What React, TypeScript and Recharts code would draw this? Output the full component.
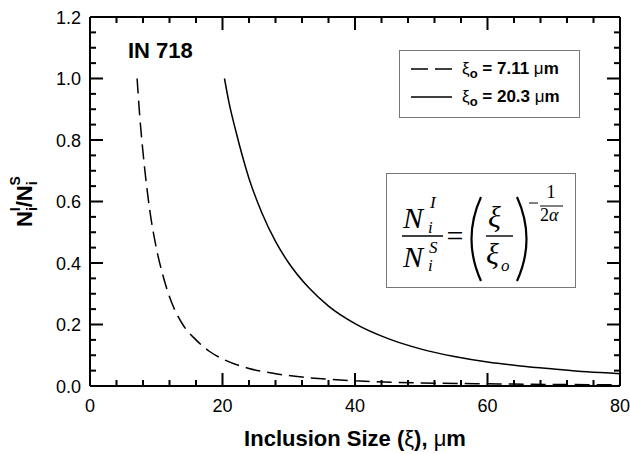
import React from 'react'
import { LineChart, Line, XAxis, YAxis, Legend } from 'recharts'

// dashed curve (xi_o = 7.11 um)
const dashedX = [7.11, 7.5, 8, 9, 10, 11, 12, 14, 16, 18, 20, 24, 28, 32, 36, 40, 50, 60, 70, 80]
const dashedY = [1.0, 0.88, 0.76, 0.575, 0.45, 0.36, 0.29, 0.2, 0.15, 0.113, 0.088, 0.057, 0.04, 0.029, 0.022, 0.017, 0.01, 0.007, 0.005, 0.0035]

// solid curve (xi_o = 20.3 um)
const solidX = [20.3, 21, 22, 24, 26, 28, 30, 33, 36, 40, 45, 50, 55, 60, 65, 70, 75, 80]
const solidY = [1.0, 0.92, 0.83, 0.675, 0.56, 0.47, 0.4, 0.32, 0.26, 0.203, 0.154, 0.12, 0.096, 0.078, 0.065, 0.055, 0.046, 0.04]

const seriesNames = ['7.11', '20.3']

const xTicks = [0, 4, 8, 12, 16, 20, 24, 28, 32, 36, 40, 44, 48, 52, 56, 60, 64, 68, 72, 76, 80]
const xLabels = [0, 20, 40, 60, 80]
const yTicks = [0, 0.05, 0.1, 0.15, 0.2, 0.25, 0.3, 0.35, 0.4, 0.45, 0.5, 0.55, 0.6, 0.65, 0.7, 0.75, 0.8, 0.85, 0.9, 0.95, 1.0, 1.05, 1.1, 1.15, 1.2]
const yLabels = [0, 0.2, 0.4, 0.6, 0.8, 1.0, 1.2]

const dashedData = dashedX.map((x, i) => ({ x, y: dashedY[i] }))
const solidData = solidX.map((x, i) => ({ x, y: solidY[i] }))

const SANS = '"Liberation Sans", Arial, Helvetica, sans-serif'
const SERIF = '"Liberation Serif", "Times New Roman", serif'

// chart geometry (plot box follows from margins + axis sizes below)
const W = 630
const H = 454
const M = { top: 16, right: 0, bottom: 0, left: 0 }
const Y_W = 90
const YR_W = 10
const X_H = 68
const XT_H = 1
const PL = M.left + Y_W
const PR = W - M.right - YR_W
const PT = M.top + XT_H
const PB = H - M.bottom - X_H

const isLabel = (list: number[], v: number) => list.some(l => Math.abs(l - v) < 1e-6)
const sx = (v: number) => PL + (v / 80) * (PR - PL)
const sy = (v: number) => PB - (v / 1.2) * (PB - PT)

function BottomTick({ x, y, payload }: any) {
  const major = isLabel(xLabels, payload.value)
  const len = major ? 13 : 6
  return (
    <g>
      <rect x={x - 1} y={y - len} width={2} height={len} fill="#000" />
      {major && (
        <text x={x} y={y + 26} textAnchor="middle" fontFamily={SANS} fontSize={18} fill="#000">
          {payload.value}
        </text>
      )}
    </g>
  )
}

function LeftTick({ x, y, payload }: any) {
  const major = isLabel(yLabels, payload.value)
  const len = major ? 13 : 6
  return (
    <g>
      <rect x={x} y={y - 1} width={len} height={2} fill="#000" />
      {major && (
        <text x={x - 9} y={y + 6.5} textAnchor="end" fontFamily={SANS} fontSize={18} fill="#000">
          {payload.value.toFixed(1)}
        </text>
      )}
    </g>
  )
}

function YTitle({ viewBox }: any) {
  const cx = 32
  const cy = viewBox ? viewBox.y + viewBox.height / 2 : 201
  return (
    <text x={cx} y={cy} transform={`rotate(-90 ${cx} ${cy})`} textAnchor="middle"
      fontFamily={SANS} fontWeight="bold" fontSize={22} fill="#000">
      N<tspan fontSize={14} dy={5}>i</tspan>
      <tspan fontSize={14} dx={-4} dy={-17}>I</tspan>
      <tspan dy={12}>/N</tspan>
      <tspan fontSize={14} dy={5}>i</tspan>
      <tspan fontSize={14} dx={-4} dy={-17}>S</tspan>
    </text>
  )
}

function XTitle({ viewBox }: any) {
  const cx = viewBox ? viewBox.x + viewBox.width / 2 : 355
  const top = viewBox ? viewBox.y : 386
  return (
    <text x={cx} y={top + 60} textAnchor="middle" fontFamily={SANS} fontWeight="bold" fontSize={22} fill="#000">
      Inclusion Size (<tspan fontWeight="normal">ξ</tspan>), <tspan fontWeight="normal">μ</tspan>m
    </text>
  )
}

function LegendBox({ payload }: any) {
  const items = [...(payload || [])].sort(
    (a: any, b: any) => seriesNames.indexOf(a.value) - seriesNames.indexOf(b.value)
  )
  return (
    <svg width={181} height={68} style={{ display: 'block' }}>
      <rect x={0.5} y={0.5} width={180} height={67} fill="#fff" stroke="#777" strokeWidth={1} />
      {items.map((e: any, i: number) => {
        const ly = 19 + i * 28
        return (
          <g key={i}>
            <line x1={12} x2={53} y1={ly} y2={ly} stroke="#000" strokeWidth={1.5}
              strokeDasharray={e.payload?.strokeDasharray ? '17 7' : undefined} />
            <text x={63} y={ly + 5} fontFamily={SANS} fontSize={17} fontWeight="bold" fill="#000">
              <tspan fontWeight="normal">ξ</tspan>
              <tspan fontSize={13} dy={4}>o</tspan>
              <tspan dy={-4}>{` = ${e.value} `}</tspan>
              <tspan fontWeight="normal">μ</tspan>m
            </text>
          </g>
        )
      })}
    </svg>
  )
}

// mirrored inward ticks on the top and right edges
function MirrorTicks() {
  const out: React.ReactNode[] = []
  xTicks.forEach(v => {
    const len = isLabel(xLabels, v) ? 13 : 6
    out.push(<rect key={`t${v}`} x={sx(v) - 1} y={PT} width={2} height={len} fill="#000" />)
  })
  yTicks.forEach(v => {
    const len = isLabel(yLabels, v) ? 13 : 6
    out.push(<rect key={`r${v}`} x={PR - len} y={sy(v) - 1} width={len} height={2} fill="#000" />)
  })
  return <g>{out}</g>
}

function Formula() {
  return (
    <g fontFamily={SERIF} fill="#000">
      <rect x={386.5} y={173.5} width={189} height={114} fill="#fff" stroke="#777" strokeWidth={1} />
      <text x={403} y={228} fontSize={30} fontStyle="italic">N</text>
      <text x={430} y={208} fontSize={17} fontStyle="italic">I</text>
      <text x={428} y={233} fontSize={17} fontStyle="italic">i</text>
      <line x1={402} x2={443} y1={236} y2={236} stroke="#000" strokeWidth={1.4} />
      <text x={403} y={267} fontSize={30} fontStyle="italic">N</text>
      <text x={429} y={253} fontSize={17} fontStyle="italic">S</text>
      <text x={428} y={271} fontSize={17} fontStyle="italic">i</text>
      <text x={455} y={246} fontSize={30} textAnchor="middle">=</text>
      <path d="M481 197 Q462 239 481 281" fill="none" stroke="#000" strokeWidth={2.2} />
      <path d="M517 197 Q536 239 517 281" fill="none" stroke="#000" strokeWidth={2.2} />
      <text x={488} y={227} fontSize={30} fontStyle="italic">ξ</text>
      <line x1={486} x2={513} y1={236} y2={236} stroke="#000" strokeWidth={1.4} />
      <text x={486} y={264} fontSize={30} fontStyle="italic">ξ</text>
      <text x={501} y={271} fontSize={17} fontStyle="italic">o</text>
      <line x1={529} x2={538} y1={203} y2={203} stroke="#000" strokeWidth={1} />
      <text x={551} y={198} fontSize={18} textAnchor="middle">1</text>
      <line x1={540} x2={563} y1={206} y2={206} stroke="#000" strokeWidth={1} />
      <text x={540} y={221} fontSize={18}>2<tspan fontStyle="italic">α</tspan></text>
    </g>
  )
}

export default function App() {
  return (
    <div style={{ position: 'absolute', left: 0, top: 0, width: W, height: H }}>
      <div style={{ position: 'absolute', left: 0, top: 0 }}>
        <LineChart width={W} height={H} margin={M}>
          <XAxis xAxisId="b" dataKey="x" type="number" domain={[0, 80]} ticks={xTicks} interval={0}
            height={X_H} tickSize={0} tickMargin={0} tickLine={false}
            axisLine={{ stroke: '#000', strokeWidth: 2 }} tick={<BottomTick />} allowDataOverflow
            label={<XTitle />} />
          <XAxis xAxisId="t" orientation="top" dataKey="x" type="number" domain={[0, 80]} ticks={xTicks} interval={0}
            height={XT_H} tickSize={0} tickLine={false} tick={false}
            axisLine={{ stroke: '#000', strokeWidth: 2 }} allowDataOverflow />
          <YAxis yAxisId="l" type="number" domain={[0, 1.2]} ticks={yTicks} interval={0} width={Y_W}
            tickSize={0} tickMargin={0} tickLine={false}
            axisLine={{ stroke: '#000', strokeWidth: 2 }} tick={<LeftTick />} allowDataOverflow
            label={<YTitle />} />
          <YAxis yAxisId="r" orientation="right" type="number" domain={[0, 1.2]} ticks={yTicks} interval={0} width={YR_W}
            tickSize={0} tickLine={false} tick={false}
            axisLine={{ stroke: '#000', strokeWidth: 2 }} allowDataOverflow />
          <Line xAxisId="b" yAxisId="l" data={dashedData} dataKey="y" name={seriesNames[0]} type="monotone"
            stroke="#000" strokeWidth={1.5} strokeDasharray="15 7" dot={false} isAnimationActive={false} />
          <Line xAxisId="b" yAxisId="l" data={solidData} dataKey="y" name={seriesNames[1]} type="monotone"
            stroke="#000" strokeWidth={1.5} dot={false} isAnimationActive={false} />
          <Legend layout="horizontal" verticalAlign="middle" align="center" content={<LegendBox />}
            wrapperStyle={{ position: 'absolute', left: 399, top: 50, width: 181, height: 68 }} />
        </LineChart>
      </div>
      <svg width={W} height={H} style={{ position: 'absolute', left: 0, top: 0, pointerEvents: 'none' }}>
        <MirrorTicks />
        <text x={128} y={58} fontFamily={SANS} fontWeight="bold" fontSize={22} fill="#000">IN 718</text>
        <Formula />
      </svg>
    </div>
  )
}
